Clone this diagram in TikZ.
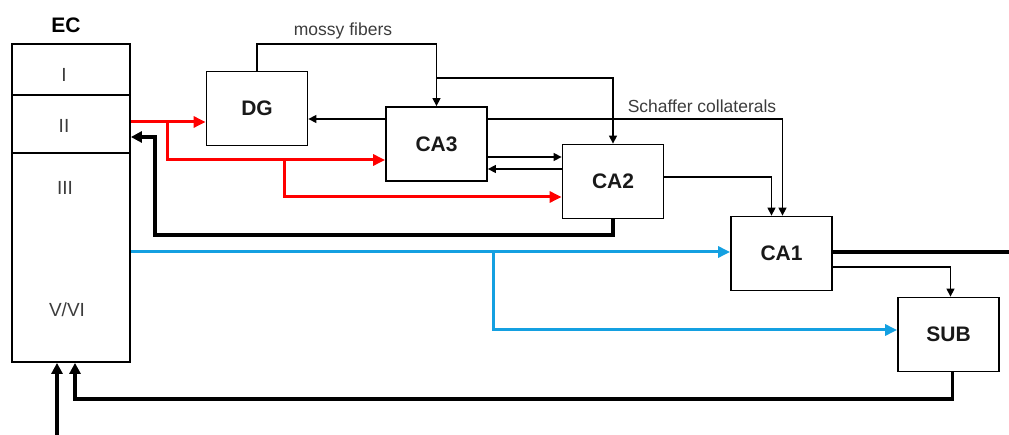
\documentclass[tikz,border=0pt]{standalone}
\usepackage{fontspec}
\setmainfont{Liberation Sans}
\usetikzlibrary{arrows.meta}
\definecolor{ecblue}{RGB}{20,160,225}
\definecolor{ecred}{RGB}{255,0,0}
\definecolor{txtgray}{RGB}{60,60,60}
\begin{document}
\begin{tikzpicture}[x=1pt,y=-1pt,
  box/.style={draw,line width=1.8pt,minimum width=101pt,minimum height=74pt,inner sep=0pt,font=\fontsize{21}{24}\selectfont\bfseries,text=black!90},
  lbl/.style={font=\fontsize{17.5}{20}\selectfont,text=txtgray,inner sep=0pt},
  roman/.style={font=\fontsize{19}{22}\selectfont,text=txtgray,inner sep=0pt},
  thinarrow/.style={line width=1.4pt,-{Triangle[length=8pt,width=8pt]}},
  thinline/.style={line width=1.4pt},
  redarrow/.style={draw=ecred,line width=3pt,-{Triangle[length=12pt,width=11pt]},color=ecred},
  bluearrow/.style={draw=ecblue,line width=3pt,-{Triangle[length=12pt,width=11pt]},color=ecblue},
  thickarrow/.style={line width=3.2pt,-{Triangle[length=11pt,width=11pt]}},
  thickline/.style={line width=3.2pt}
]
\useasboundingbox (0,0) rectangle (1009,435);
% EC column
\node[draw,line width=1.8pt,minimum width=118pt,minimum height=318pt,inner sep=0pt] (ec) at (71,203) {};
\draw[line width=1.4pt] (ec.west |- 0,95) -- (ec.east |- 0,95);
\draw[line width=1.4pt] (ec.west |- 0,153) -- (ec.east |- 0,153);
\node[font=\fontsize{21}{24}\selectfont\bfseries,inner sep=0pt] (eclbl) at (66,25) {EC};
\node[roman] (l1) at (64,75) {I};
\node[roman] (l2) at (64,126) {II};
\node[roman] (l3) at (65,188) {III};
\node[roman] (l5) at (67,310) {V/VI};
% boxes
\node[box] (dg)  at (257,108.5) {DG};
\node[box] (ca3) at (436.5,144) {CA3};
\node[box] (ca2) at (613,181.5) {CA2};
\node[box] (ca1) at (781.5,253.5) {CA1};
\node[box] (sub) at (948.5,334.5) {SUB};
% labels
\node[lbl] (mflbl) at (343,31) {mossy fibers};
\node[lbl] (sclbl) at (702,106) {Schaffer collaterals};
% mossy fibers
\coordinate (mf) at (436.5,44);
\coordinate (mf2) at (436.5,78);
\draw[thinarrow] (dg.north) |- (mf) -- (ca3.north);
\draw[thinarrow] (mf2) -| (ca2.north);
% CA3 -> DG
\draw[thinarrow] (ca3.west |- 0,119) -- (dg.east |- 0,119);
% Schaffer collaterals
\draw[thinarrow] (ca3.east |- 0,119) -| ([xshift=1pt]ca1.north);
% CA3 <-> CA2
\draw[thinarrow] (ca3.east |- 0,157) -- (ca2.west |- 0,157);
\draw[thinarrow] (ca2.west |- 0,169) -- (ca3.east |- 0,169);
% CA2 -> CA1
\draw[thinarrow] (ca2.east |- 0,177) -| ([xshift=-10pt]ca1.north);
% CA1 -> SUB
\draw[thinarrow] (ca1.east |- 0,267) -| ([xshift=2pt]sub.north);
% CA1 output
\coordinate (out) at (1009,252);
\draw[thickline] (ca1.east |- out) -- (out);
% SUB -> EC
\coordinate (ret) at (75,399);
\draw[thickarrow] ([xshift=4pt]sub.south) |- (ret) -- (ec.south -| ret);
% input to EC
\coordinate (in) at (57,435);
\draw[thickarrow] (in) -- (ec.south -| in);
% CA2 -> EC II
\coordinate (bk) at (155,235);
\draw[thickarrow] (ca2.south) |- (bk) |- (ec.east |- 0,137);
% red pathway
\draw[redarrow] (ec.east |- 0,122) -- (dg.west |- 0,122);
\coordinate (r1) at (167,122);
\coordinate (r2) at (284,160);
\draw[redarrow] (r1) |- (ca3.west |- r2);
\draw[redarrow] (r2) |- (ca2.west |- 0,197);
% blue pathway
\draw[bluearrow] (ec.east |- 0,252) -- (ca1.west |- 0,252);
\coordinate (b1) at (493,252);
\draw[bluearrow] (b1) |- (sub.west |- 0,330);
\end{tikzpicture}
\end{document}
